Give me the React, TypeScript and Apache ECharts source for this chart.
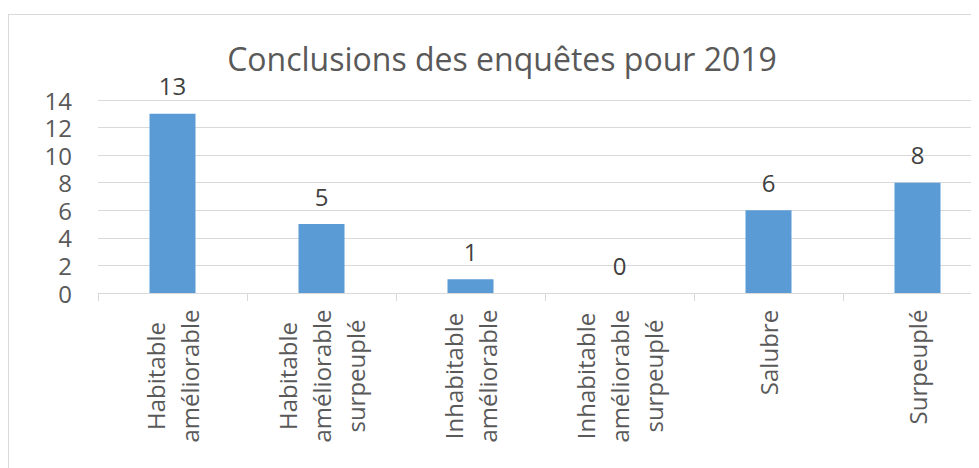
import React, { useEffect, useRef } from 'react';
import * as echarts from 'echarts';

const categories = [
  'Habitable\naméliorable',
  'Habitable\naméliorable\nsurpeuplé',
  'Inhabitable\naméliorable',
  'Inhabitable\naméliorable\nsurpeuplé',
  'Salubre',
  'Surpeuplé',
];
const values = [13, 5, 1, 0, 6, 8];
const yMin = 0;
const yMax = 14;
const yInterval = 2;
const titleText = 'Conclusions des enquêtes pour 2019';

const FONT = "'Open Sans', sans-serif";
const LABEL_SIZE = 24;

function measure(text: string): number {
  const c = document.createElement('canvas').getContext('2d');
  if (!c) return text.length * 12;
  c.font = `${LABEL_SIZE}px 'Open Sans'`;
  return c.measureText(text).width;
}

export default function App() {
  const ref = useRef<HTMLDivElement>(null);
  useEffect(() => {
    if (!ref.current) return;
    const chart = echarts.init(ref.current, undefined, { renderer: 'svg' });
    const rich: Record<string, any> = {};
    categories.forEach((cat, i) => {
      const w = Math.max(...cat.split('\n').map(measure));
      rich['c' + i] = {
        width: Math.ceil(w) + 1,
        align: 'center',
        lineHeight: 34,
        fontSize: LABEL_SIZE,
        fontFamily: FONT,
        color: '#595959',
      };
    });
    chart.setOption({
      animation: false,
      title: {
        text: titleText,
        left: 'center',
        top: 22,
        textStyle: { fontFamily: FONT, fontSize: 32, fontWeight: 'normal', color: '#595959' },
      },
      grid: { left: 89, top: 85, width: 894, height: 193, containLabel: false, outerBoundsMode: 'none' },
      xAxis: {
        type: 'category',
        data: categories,
        axisLine: { lineStyle: { color: '#d9d9d9', width: 1 } },
        axisTick: { show: true, length: 8, lineStyle: { color: '#d9d9d9' } },
        axisLabel: {
          interval: 0,
          rotate: 90,
          margin: 16,
          fontSize: LABEL_SIZE,
          fontFamily: FONT,
          color: '#595959',
          formatter: (value: string, index: number) =>
            value.split('\n').map((l) => `{c${index}|${l}}`).join('\n'),
          rich,
        },
      },
      yAxis: {
        type: 'value',
        min: yMin,
        max: yMax,
        interval: yInterval,
        axisLine: { show: false },
        axisTick: { show: false },
        splitLine: { lineStyle: { color: '#d9d9d9', width: 1 } },
        axisLabel: {
          margin: 26,
          fontSize: LABEL_SIZE,
          lineHeight: 24,
          fontFamily: FONT,
          color: '#595959',
        },
      },
      series: [
        {
          type: 'bar',
          data: values,
          barWidth: 46,
          itemStyle: { color: '#5B9BD5' },
          label: {
            show: true,
            position: 'top',
            distance: 16,
            fontSize: LABEL_SIZE,
            lineHeight: 24,
            fontFamily: FONT,
            color: '#404040',
          },
        },
      ],
    });
    return () => chart.dispose();
  }, []);
  return (
    <div style={{ width: 971, height: 460, overflow: 'hidden', position: 'relative' }}>
      <div
        ref={ref}
        style={{
          position: 'absolute',
          left: 0,
          top: 6,
          width: 986,
          height: 470,
          border: '1px solid #d9d9d9',
        }}
      />
    </div>
  );
}
